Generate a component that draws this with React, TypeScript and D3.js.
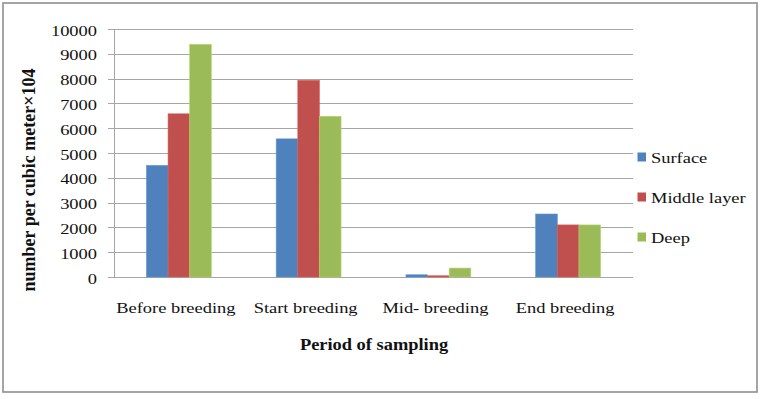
import React from "react";
import * as d3 from "d3";

const categories = ["Before breeding", "Start breeding", "Mid- breeding", "End breeding"];
const seriesNames = ["Surface", "Middle layer", "Deep"];
const surface = [4500, 5570, 90, 2540];
const middleLayer = [6580, 7930, 50, 2100];
const deep = [9380, 6480, 360, 2100];
const yTicks = [0, 1000, 2000, 3000, 4000, 5000, 6000, 7000, 8000, 9000, 10000];
const colors = ["#4F81BD", "#C0504D", "#9BBB59"];

const W = 762;
const H = 399;
const plot = { left: 114, right: 633, top: 29, bottom: 277 };
const FONT = "'Liberation Serif', 'Times New Roman', serif";
const SX = 1.23; // horizontal widening of the label text
const textStyle = { fontFamily: FONT };

export default function App() {
  const values = [surface, middleLayer, deep];

  const x = d3
    .scaleBand<string>()
    .domain(categories)
    .range([plot.left, plot.right])
    .paddingInner(0.5)
    .paddingOuter(0.25);

  const xs = d3
    .scaleBand<string>()
    .domain(seriesNames)
    .range([0, x.bandwidth()])
    .padding(0);

  const y = d3.scaleLinear().domain([0, 10000]).range([plot.bottom, plot.top]);

  const legendY = [157, 197, 237];

  return (
    <svg
      width={W}
      height={H}
      style={{ position: "absolute", left: 0, top: 0, background: "#fff", fontFamily: FONT }}
    >
      <rect x={0} y={0} width={W} height={H} fill="#fff" />
      {/* chart frame */}
      <rect x={3} y={3} width={754} height={389} fill="none" stroke="#8f8f8f" strokeWidth={1.6} />

      {/* gridlines and y ticks */}
      {yTicks.map((t) => (
        <g key={t}>
          <line
            x1={plot.left - 6}
            x2={plot.right}
            y1={Math.round(y(t)) + 0.5}
            y2={Math.round(y(t)) + 0.5}
            stroke="#a6a6a6"
            strokeWidth={1}
          />
          <g transform={`translate(${97},${y(t) + 6.5}) scale(${SX},1)`}>
            <text textAnchor="end" fontSize={15} fill="#111" style={textStyle}>
              {t}
            </text>
          </g>
        </g>
      ))}
      {/* value axis line */}
      <line
        x1={plot.left + 0.5}
        x2={plot.left + 0.5}
        y1={plot.top}
        y2={plot.bottom + 0.5}
        stroke="#a6a6a6"
        strokeWidth={1}
      />

      {/* bars */}
      {categories.map((c, ci) => (
        <g key={c}>
          {seriesNames.map((s, si) => {
            const v = values[si][ci];
            const bx = (x(c) ?? 0) + (xs(s) ?? 0);
            return (
              <rect
                key={s}
                x={bx}
                y={y(v)}
                width={xs.bandwidth()}
                height={y(0) - y(v)}
                fill={colors[si]}
                stroke={d3.color(colors[si])!.brighter(0.4).formatHex()}
                strokeWidth={0.6}
              />
            );
          })}
          <g transform={`translate(${(x(c) ?? 0) + x.bandwidth() / 2 - 3},${313}) scale(${SX},1)`}>
            <text textAnchor="middle" fontSize={15} fill="#111" style={textStyle}>
              {c}
            </text>
          </g>
        </g>
      ))}

      {/* axis titles */}
      <g transform={`translate(${374},${350}) scale(1.15,1)`}>
        <text textAnchor="middle" fontSize={16} fontWeight="bold" fill="#111" style={textStyle}>
          Period of sampling
        </text>
      </g>
      <g transform={`translate(${35},${180}) rotate(-90)`}>
        <text textAnchor="middle" fontSize={18} fontWeight="bold" fill="#111" style={textStyle}>
          number per cubic meter×104
        </text>
      </g>

      {/* legend */}
      {seriesNames.map((s, i) => (
        <g key={s}>
          <rect x={637.5} y={legendY[i] - 4.5} width={8.5} height={9} fill={colors[i]} />
          <g transform={`translate(${651},${legendY[i] + 6}) scale(${SX},1)`}>
            <text fontSize={15} fill="#111" style={textStyle}>
              {s}
            </text>
          </g>
        </g>
      ))}
    </svg>
  );
}
